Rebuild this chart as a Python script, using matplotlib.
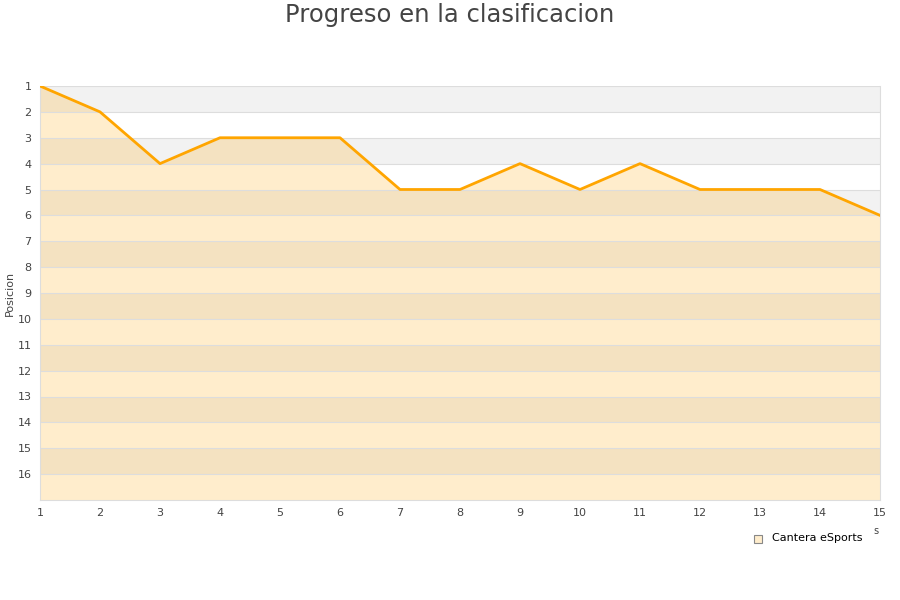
import matplotlib
matplotlib.use('Agg')
import matplotlib.pyplot as plt

jornadas = list(range(1, 16))
posicion = [1, 2, 4, 3, 3, 3, 5, 5, 4, 5, 4, 5, 5, 5, 6]
y_ticks = list(range(1, 17))
equipo = 'Cantera eSports'

fig = plt.figure(figsize=(9, 6), dpi=100)
ax = fig.add_axes([40/900, 1 - 500/600, 840/900, 414/600])

# alternating bands
for v in range(1, 17):
    if v % 2 == 1:
        ax.axhspan(v, v + 1, color='#f2f2f2', zorder=0, lw=0)

ax.fill_between(jornadas, posicion, 17, color='#ffa500', alpha=0.2, lw=0, zorder=1)
ax.plot(jornadas, posicion, color='#ffa500', lw=2, zorder=3)

ax.set_xlim(1, 15)
ax.set_ylim(17, 1)
ax.set_xticks(jornadas)
ax.set_yticks(y_ticks)
ax.tick_params(length=0, labelsize=8, colors='#444444', pad=6)
ax.yaxis.grid(True, color='#dddddd', lw=0.8, zorder=0.5)
ax.spines['top'].set_visible(False)
for s in ['left', 'bottom', 'right']:
    ax.spines[s].set_color('#dddddd')

ax.set_ylabel('Posicion', fontsize=8, color='#444444', labelpad=2)
fig.text(0.5, 1 - 15/600, 'Progreso en la clasificacion', ha='center', va='center',
         fontsize=17.5, color='#444444')

# legend
fig.patches.append(plt.Rectangle((754/900, 1 - 543/600), 8/900, 8/600, transform=fig.transFigure,
                                 facecolor='#ffedcc', edgecolor='#888888', lw=0.8))
fig.text(772/900, 1 - 538/600, equipo, fontsize=8, va='center', color='#000000')
fig.text(876/900, 1 - 531/600, 's', fontsize=7, va='center', ha='center', color='#444444')

fig.savefig('out.png', dpi=100)
